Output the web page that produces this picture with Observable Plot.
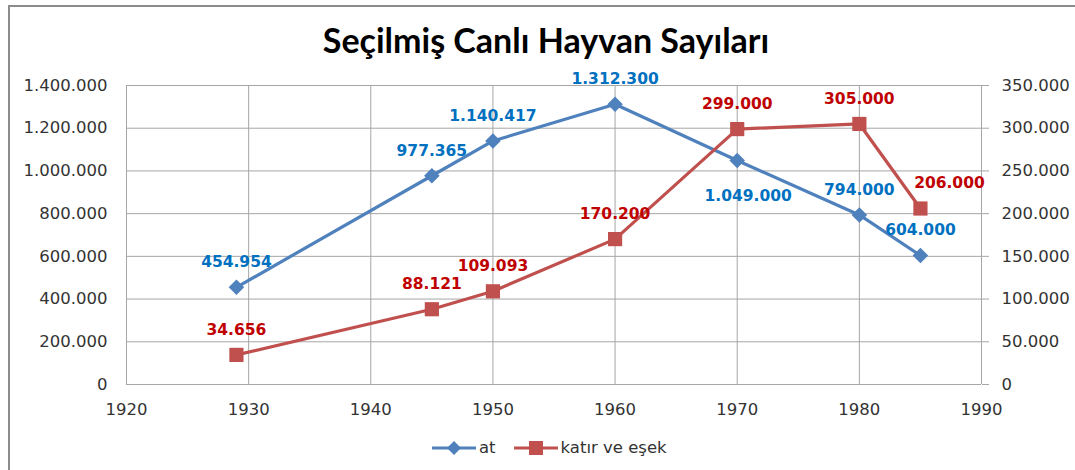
<!DOCTYPE html>
<html>
<head>
<meta charset="utf-8">
<script src="https://cdn.jsdelivr.net/npm/d3@7"></script>
<script src="https://cdn.jsdelivr.net/npm/@observablehq/plot@0.6"></script>
<style>
  html, body { margin: 0; padding: 0; background: #fff; overflow: hidden; }
  #wrap { position: relative; width: 1075px; height: 470px; overflow: hidden; }
  #frame { position: absolute; left: 8px; top: 5px; width: 1200px; height: 600px; border-left: 2px solid #8c8c8c; border-top: 2px solid #8c8c8c; }
  #title { position: absolute; left: 0; top: 23px; width: 1092px; text-align: center; font-family: Lato, "DejaVu Sans", sans-serif; font-weight: bold; font-size: 34px; line-height: 34px; color: #000; }
  #chart { position: absolute; left: 0; top: 60px; }
  #legend { position: absolute; left: 432px; top: 438px; height: 20px; display: flex; align-items: center; font-family: "DejaVu Sans", sans-serif; font-size: 16.5px; color: #333; }
  #legend .item { display: flex; align-items: center; margin-right: 18px; }
  #legend svg { display: block; }
  #legend span { margin-left: 3px; line-height: 20px; }
</style>
</head>
<body>
<div id="wrap">
  <div id="frame"></div>
  <div id="title"></div>
  <div id="chart"></div>
  <div id="legend"></div>
</div>
<script>
const chartTitle = "Seçilmiş Canlı Hayvan Sayıları";
const years = [1929, 1945, 1950, 1960, 1970, 1980, 1985];
const at = [454954, 977365, 1140417, 1312300, 1049000, 794000, 604000];
const katir = [34656, 88121, 109093, 170200, 299000, 305000, 206000];
const seriesNames = ["at", "katır ve eşek"];
const xTicks = [1920, 1930, 1940, 1950, 1960, 1970, 1980, 1990];
const leftTicks = [0, 200000, 400000, 600000, 800000, 1000000, 1200000, 1400000];
const rightTicks = [0, 50000, 100000, 150000, 200000, 250000, 300000, 350000];

const blueLine = "#4F81BD", redLine = "#C0504D";
const blueText = "#0070C0", redText = "#C00000";
const gridColor = "#a6a6a6";

const locale = d3.formatLocale({decimal: ",", thousands: ".", grouping: [3], currency: ["", ""]});
const fmt = locale.format(",d");

const leftMax = leftTicks[leftTicks.length - 1];
const rightMax = rightTicks[rightTicks.length - 1];
const ratio = leftMax / rightMax;

const atData = years.map((year, i) => ({year, v: at[i], y: at[i]}));
const katirData = years.map((year, i) => ({year, v: katir[i], y: katir[i] * ratio}));

document.getElementById("title").textContent = chartTitle;

const labelStyle = {fontWeight: "bold", fontSize: 15.5, fontFamily: "DejaVu Sans"};

const plot = Plot.plot({
  width: 1075,
  height: 364,
  marginLeft: 126,
  marginRight: 94,
  marginTop: 25,
  marginBottom: 40,
  style: {fontFamily: "DejaVu Sans", fontSize: "16.5px", color: "#333", background: "transparent"},
  x: {domain: [xTicks[0], xTicks[xTicks.length - 1]]},
  y: {domain: [0, leftMax]},
  marks: [
    Plot.gridY(leftTicks, {stroke: gridColor, strokeOpacity: 1}),
    Plot.gridX(xTicks, {stroke: gridColor, strokeOpacity: 1}),
    Plot.axisX(xTicks, {tickSize: 0, tickPadding: 19, tickFormat: d => String(d), label: null, fill: "#333"}),
    Plot.axisY(leftTicks, {anchor: "left", tickSize: 0, tickPadding: 19, tickFormat: fmt, label: null, fill: "#333"}),
    Plot.axisY(rightTicks.map(v => v * ratio), {anchor: "right", tickSize: 7, tickPadding: 13, stroke: gridColor, strokeOpacity: 1, fill: "#333", tickFormat: d => fmt(Math.round(d / ratio)), label: null}),
    Plot.line(atData, {x: "year", y: "y", stroke: blueLine, strokeWidth: 3.2}),
    Plot.line(katirData, {x: "year", y: "y", stroke: redLine, strokeWidth: 3.2}),
    Plot.dot(atData, {x: "year", y: "y", symbol: "diamond2", r: 7, fill: blueLine, stroke: "none"}),
    Plot.dot(katirData, {x: "year", y: "y", symbol: "square", r: 8, fill: redLine, stroke: "none"}),
    Plot.text(atData, {x: "year", y: "y", text: d => fmt(d.v), dy: -25, fill: blueText, ...labelStyle, filter: d => d.year !== 1970}),
    Plot.text(atData, {x: "year", y: "y", text: d => fmt(d.v), dx: 11, dy: 36, fill: blueText, ...labelStyle, filter: d => d.year === 1970}),
    Plot.text(katirData, {x: "year", y: "y", text: d => fmt(d.v), dy: -25, fill: redText, ...labelStyle, filter: d => d.year !== 1985}),
    Plot.text(katirData, {x: "year", y: "y", text: d => fmt(d.v), dx: 29, dy: -25, fill: redText, ...labelStyle, filter: d => d.year === 1985})
  ]
});
document.getElementById("chart").appendChild(plot);

// Legend
const legend = document.getElementById("legend");
const swatches = [
  {color: blueLine, shape: "diamond"},
  {color: redLine, shape: "square"}
];
seriesNames.forEach((name, i) => {
  const item = document.createElement("div");
  item.className = "item";
  const s = swatches[i];
  const marker = s.shape === "diamond"
    ? `<path d="M22,3 L29,10 L22,17 L15,10 Z" fill="${s.color}"/>`
    : `<rect x="15" y="3" width="14" height="14" fill="${s.color}"/>`;
  item.innerHTML = `<svg width="44" height="20"><line x1="0" y1="10" x2="44" y2="10" stroke="${s.color}" stroke-width="3.2"/>${marker}</svg><span></span>`;
  item.querySelector("span").textContent = name;
  legend.appendChild(item);
});
</script>
</body>
</html>
